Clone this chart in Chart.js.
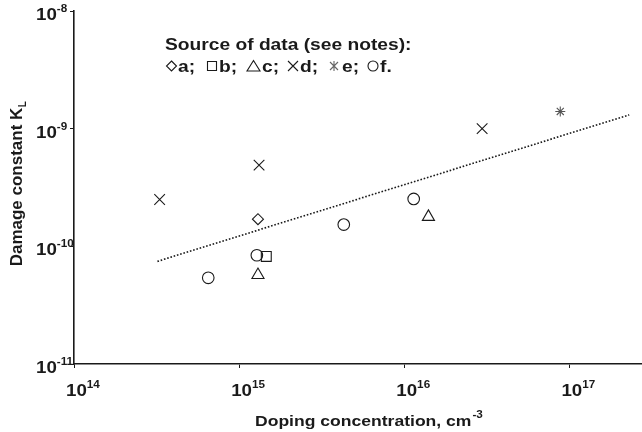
<!DOCTYPE html>
<html>
<head>
<meta charset="utf-8">
<script src="https://cdn.jsdelivr.net/npm/chart.js@4.4.1/dist/chart.umd.min.js"></script>
<style>
  html, body { margin: 0; padding: 0; background: #fff; }
</style>
</head>
<body>
<canvas id="chart" width="642" height="432"></canvas>
<script>
// values (log-log)
const aX = [1.30e15];
const aY = [1.70e-10];
const bX = [1.46e15];
const bY = [8.2e-11];
const cX = [1.30e15, 1.40e16];
const cY = [5.7e-11, 1.78e-10];
const dX = [3.3e14, 1.32e15, 2.96e16];
const dY = [2.5e-10, 4.9e-10, 1.0e-9];
const eX = [8.8e16];
const eY = [1.40e-9];
const fX = [6.5e14, 1.28e15, 4.3e15, 1.14e16];
const fY = [5.4e-11, 8.4e-11, 1.53e-10, 2.53e-10];
const fitX = [3.2e14, 2.3e17];
const fitY = [7.45e-11, 1.31e-9];

const xTickExp = [14, 15, 16, 17];
const yTickExp = [-11, -10, -9, -8];
const legendTitle = 'Source of data (see notes):';
const legendItems = ['a;', 'b;', 'c;', 'd;', 'e;', 'f.'];
const xTitle = 'Doping concentration, cm';
const xTitleExp = '-3';
const yTitle = 'Damage constant K';
const yTitleSub = 'L';

const ink = '#1a1a1a';
const SX = 1.17; // the scanned lettering is a bit wide

function pts(xs, ys) {
    return xs.map((x, i) => ({ x: x, y: ys[i] }));
}

function txt(ctx, s, x, y, size, align, sx) {
    ctx.save();
    ctx.font = 'bold ' + size + 'px "Liberation Sans", Arial, sans-serif';
    ctx.fillStyle = ink;
    ctx.textAlign = align || 'left';
    ctx.textBaseline = 'alphabetic';
    ctx.translate(x, y);
    ctx.scale(sx || SX, 1);
    ctx.fillText(s, 0, 0);
    const w = ctx.measureText(s).width * (sx || SX);
    ctx.restore();
    return w;
}

function symbol(ctx, kind, cx, cy) {
    ctx.save();
    ctx.strokeStyle = ink;
    ctx.lineWidth = 1.1;
    ctx.beginPath();
    if (kind === 'diamond') {
        ctx.moveTo(cx, cy - 5); ctx.lineTo(cx + 5, cy); ctx.lineTo(cx, cy + 5); ctx.lineTo(cx - 5, cy); ctx.closePath();
    } else if (kind === 'square') {
        ctx.rect(cx - 4.5, cy - 4.5, 9, 9);
    } else if (kind === 'triangle') {
        ctx.moveTo(cx, cy - 5.5); ctx.lineTo(cx + 6.5, cy + 5); ctx.lineTo(cx - 6.5, cy + 5); ctx.closePath();
    } else if (kind === 'cross') {
        ctx.moveTo(cx - 5, cy - 5); ctx.lineTo(cx + 5, cy + 5);
        ctx.moveTo(cx + 5, cy - 5); ctx.lineTo(cx - 5, cy + 5);
    } else if (kind === 'star') {
        ctx.strokeStyle = '#666';
        ctx.moveTo(cx, cy - 5); ctx.lineTo(cx, cy + 5);
        ctx.moveTo(cx - 4, cy - 4); ctx.lineTo(cx + 4, cy + 4);
        ctx.moveTo(cx + 4, cy - 4); ctx.lineTo(cx - 4, cy + 4);
    } else {
        ctx.arc(cx, cy, 5, 0, Math.PI * 2);
    }
    ctx.stroke();
    ctx.restore();
}

const labelsPlugin = {
    id: 'labels',
    afterDraw(chart) {
        const ctx = chart.ctx;
        const xs = chart.scales.x;
        const ys = chart.scales.y;

        // tick labels 10^n
        xTickExp.forEach(function (n) {
            const px = xs.getPixelForValue(Math.pow(10, n));
            const w = txt(ctx, '10', px - 8, 396, 16);
            txt(ctx, String(n), px - 8 + w, 388, 10);
        });
        yTickExp.forEach(function (n) {
            const py = ys.getPixelForValue(Math.pow(10, n));
            const w = txt(ctx, '10', 36, py + 9, 16);
            txt(ctx, String(n), 36 + w, py + 1, 10);
        });

        // axis titles
        const w = txt(ctx, xTitle, 255, 426, 15);
        txt(ctx, xTitleExp, 255 + w + 1, 418, 10);

        ctx.save();
        ctx.translate(22, 183);
        ctx.rotate(-Math.PI / 2);
        ctx.font = 'bold 17px "Liberation Sans", Arial, sans-serif';
        const tw = ctx.measureText(yTitle).width + 8;
        const yw = txt(ctx, yTitle, -tw / 2, 0, 17, 'left', 1.0);
        txt(ctx, yTitleSub, -tw / 2 + yw + 0.5, 4, 10, 'left', 1.0);
        ctx.restore();

        // in-plot legend
        txt(ctx, legendTitle, 165, 50, 16, 'left', 1.2);
        const kinds = ['diamond', 'square', 'triangle', 'cross', 'star', 'circle'];
        const symX = [171.5, 212, 253.5, 293, 334, 373];
        const letX = [178, 219, 262, 300, 342, 380];
        kinds.forEach(function (k, i) {
            symbol(ctx, k, symX[i], 66);
            txt(ctx, legendItems[i], letX[i], 72, 16, 'left', 1.2);
        });
    }
};

const marker = {
    borderColor: ink,
    backgroundColor: 'rgba(0,0,0,0)',
    borderWidth: 1.1,
    showLine: false
};

const ctx = document.getElementById('chart').getContext('2d');
new Chart(ctx, {
    type: 'scatter',
    data: {
        datasets: [
            { label: 'fit', data: pts(fitX, fitY), showLine: true, borderColor: ink, borderWidth: 1.6, borderDash: [1.6, 1.8], pointRadius: 0, fill: false },
            Object.assign({}, marker, { label: 'a', data: pts(aX, aY), pointStyle: 'rectRot', pointRadius: 5.5 }),
            Object.assign({}, marker, { label: 'b', data: pts(bX, bY), pointStyle: 'rect', pointRadius: 7 }),
            Object.assign({}, marker, { label: 'c', data: pts(cX, cY), pointStyle: 'triangle', pointRadius: 7 }),
            Object.assign({}, marker, { label: 'd', data: pts(dX, dY), pointStyle: 'crossRot', pointRadius: 7.5 }),
            Object.assign({}, marker, { label: 'e', data: pts(eX, eY), pointStyle: 'star', pointRadius: 5, borderColor: '#555' }),
            Object.assign({}, marker, { label: 'f', data: pts(fX, fY), pointStyle: 'circle', pointRadius: 5.8 })
        ]
    },
    options: {
        responsive: false,
        animation: false,
        layout: { autoPadding: false, padding: { top: 11, right: 0, left: 0, bottom: 0 } },
        plugins: {
            legend: { display: false },
            tooltip: { enabled: false },
            title: { display: false }
        },
        scales: {
            x: {
                type: 'logarithmic',
                min: 1e14,
                max: 2.75e17,
                afterBuildTicks: function (s) { s.ticks = xTickExp.map(n => ({ value: Math.pow(10, n) })); },
                afterFit: function (s) { s.height = 68; },
                ticks: { display: false },
                grid: { display: true, drawOnChartArea: false, drawTicks: true, tickLength: 4, color: ink, lineWidth: 1 },
                border: { display: true, color: ink, width: 1.6 }
            },
            y: {
                type: 'logarithmic',
                min: 1e-11,
                max: 1e-8,
                afterBuildTicks: function (s) { s.ticks = yTickExp.map(n => ({ value: Math.pow(10, n) })); },
                afterFit: function (s) { s.width = 74; },
                ticks: { display: false },
                grid: { display: true, drawOnChartArea: false, drawTicks: true, tickLength: 4, color: ink, lineWidth: 1 },
                border: { display: true, color: ink, width: 1.6 }
            }
        }
    },
    plugins: [labelsPlugin]
});
</script>
</body>
</html>
